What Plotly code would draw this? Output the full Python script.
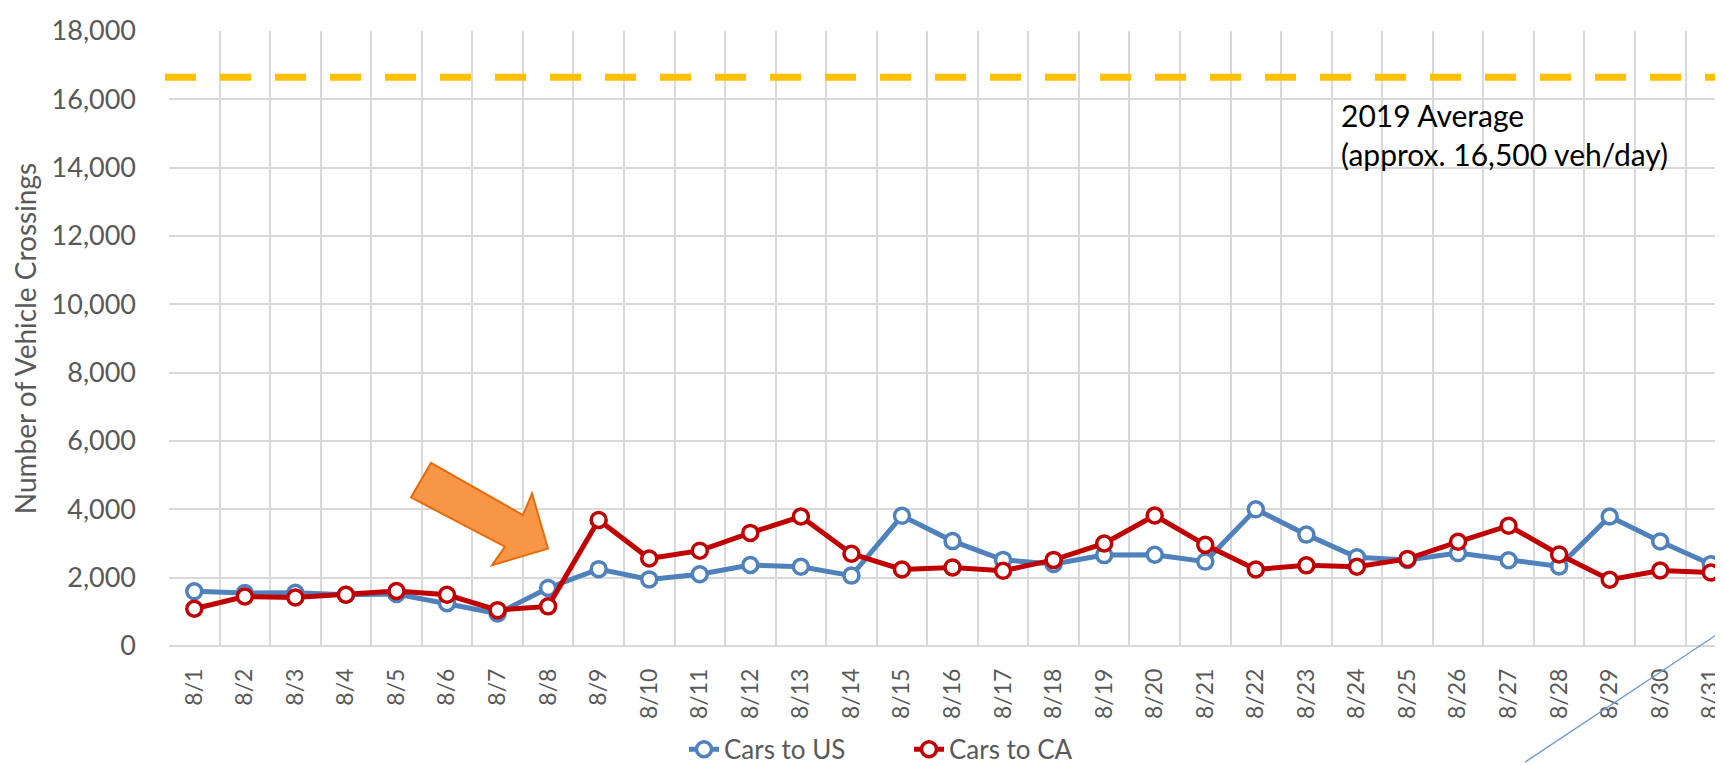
import plotly.graph_objects as go

dates = [f"8/{d}" for d in range(1, 32)]
cars_to_us = [1600, 1550, 1560, 1500, 1520, 1250, 950, 1700, 2250, 1950, 2100, 2370, 2320, 2060,
              3810, 3070, 2520, 2400, 2660, 2670, 2470, 4000, 3260, 2600, 2520, 2720, 2510, 2330,
              3790, 3060, 2390]
cars_to_ca = [1090, 1450, 1420, 1500, 1610, 1500, 1050, 1160, 3690, 2560, 2790, 3310, 3790, 2700,
              2240, 2300, 2200, 2520, 3000, 3820, 2960, 2240, 2360, 2320, 2550, 3050, 3520, 2680,
              1940, 2210, 2150]
avg_2019 = 16650
avg_label = "2019 Average<br>(approx. 16,500 veh/day)"

W, H = 1723, 765
ML, MR, MT, MB = 161, 0, 23, 117
PW, PH = W - ML - MR, H - MT - MB

def px(x):
    return (x - ML) / PW

def py(y):
    return (H - MB - y) / PH

FONT = "Lato, 'Open Sans', sans-serif"
GRAY = "#595959"

fig = go.Figure()
fig.add_trace(go.Scatter(
    x=dates, y=cars_to_us, name="Cars to US", mode="lines+markers",
    line=dict(color="#4F81BD", width=5),
    marker=dict(symbol="circle", size=15, color="white", line=dict(color="#4F81BD", width=3.5)),
))
fig.add_trace(go.Scatter(
    x=dates, y=cars_to_ca, name="Cars to CA", mode="lines+markers",
    line=dict(color="#C00000", width=5),
    marker=dict(symbol="circle", size=15, color="white", line=dict(color="#C00000", width=3.5)),
))

# 2019 average dashed line
fig.add_shape(type="line", xref="paper", yref="y", x0=px(157), x1=1, y0=avg_2019, y1=avg_2019,
              line=dict(color="#FFC000", width=7, dash="31px,24px"), layer="above")

# orange block arrow (decorative callout)
arrow_px = [(423, 462), (515, 515), (524, 493), (540, 549), (484, 566), (497, 547), (403, 497)]
path = "M " + " L ".join(f"{px(x):.5f},{py(y):.5f}" for x, y in arrow_px) + " Z"
fig.add_shape(type="path", xref="paper", yref="paper", path=path,
              fillcolor="#F79646", line=dict(color="#E46C0A", width=2), layer="above")

# thin stray diagonal line at bottom right
fig.add_shape(type="line", xref="paper", yref="paper", x0=px(1517), y0=py(766), x1=px(1724), y1=py(626),
              line=dict(color="#6F9BD3", width=1.3), layer="above")

fig.add_annotation(text=avg_label, xref="paper", yref="paper", x=px(1331), y=py(88),
                   xanchor="left", yanchor="top", showarrow=False, align="left",
                   font=dict(family=FONT, size=30, color="black"))

fig.update_layout(
    width=W, height=H,
    margin=dict(l=ML, r=MR, t=MT, b=MB, pad=0),
    paper_bgcolor="white", plot_bgcolor="white",
    font=dict(family=FONT, color=GRAY),
    showlegend=True,
    legend=dict(orientation="h", x=px(676), xanchor="left", y=py(753), yanchor="middle",
                font=dict(size=26, color=GRAY), entrywidth=180, traceorder="normal"),
    xaxis=dict(
        type="category", range=[-0.5, 30.4], tickson="boundaries",
        showgrid=True, gridcolor="#D9D9D9", gridwidth=1.5,
        tickangle=-90, tickfont=dict(size=23, color=GRAY), ticks="", ticklabelstandoff=17,
        showline=False, zeroline=False, fixedrange=True,
    ),
    yaxis=dict(
        range=[0, 18000], dtick=2000, tickformat=",d",
        showgrid=True, gridcolor="#D9D9D9", gridwidth=1.5,
        zeroline=True, zerolinecolor="#D9D9D9", zerolinewidth=1.5,
        tickfont=dict(size=27, color=GRAY), ticks="", ticklabelstandoff=32,
        title=dict(text="Number of Vehicle Crossings", font=dict(size=28, color=GRAY), standoff=8),
        showline=False,
    ),
)

fig.write_html("out.html")
